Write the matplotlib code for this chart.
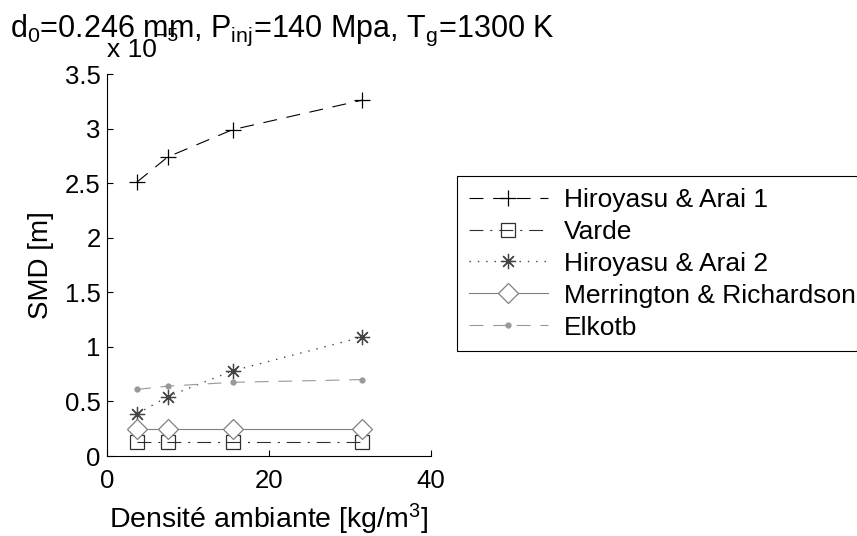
import numpy as np
import matplotlib
matplotlib.use('Agg')
import matplotlib.pyplot as plt

plt.rcParams['font.family'] = ['Liberation Sans', 'DejaVu Sans']
plt.rcParams['mathtext.fontset'] = 'custom'
plt.rcParams['mathtext.rm'] = 'Liberation Sans'
plt.rcParams['mathtext.it'] = 'Liberation Sans'
plt.rcParams['lines.scale_dashes'] = False

# densite ambiante [kg/m3]
rho = [3.7, 7.5, 15.5, 31.5]
# SMD [m] x 1e-5
smd_hiro1 = [2.51, 2.74, 2.99, 3.26]
smd_varde = [0.125, 0.125, 0.125, 0.125]
smd_hiro2 = [0.385, 0.545, 0.78, 1.09]
smd_merr = [0.25, 0.25, 0.25, 0.25]
smd_elkotb = [0.61, 0.64, 0.675, 0.70]
labels = ['Hiroyasu & Arai 1', 'Varde', 'Hiroyasu & Arai 2',
          'Merrington & Richardson', 'Elkotb']

fig = plt.figure(figsize=(8.57, 5.36), dpi=100)
ax = fig.add_axes([107/857, 1 - 456/536, (431 - 107)/857, (456 - 74)/536])

ax.plot(rho, smd_hiro1, color='black', linestyle=(0, (10, 7)), lw=0.8,
        marker='+', markersize=12, markeredgewidth=0.9, label=labels[0])
ax.plot(rho, smd_varde, color='#303030', linestyle=(0, (10, 5, 1.5, 5)), lw=0.8,
        marker='s', markersize=9.5, markerfacecolor='none', markeredgewidth=0.9,
        label=labels[1])
ax.plot(rho, smd_hiro2, color='#444444', linestyle=(0, (1, 5)), lw=1.0,
        marker=(8, 2, 0), markersize=11, markeredgewidth=0.9, label=labels[2])
ax.plot(rho, smd_merr, color='#808080', linestyle='-', lw=0.8,
        marker='D', markersize=10.5, markerfacecolor='white', markeredgewidth=0.9,
        label=labels[3])
ax.plot(rho, smd_elkotb, color='#999999', linestyle=(0, (10, 7)), lw=0.8,
        marker='.', markersize=7, label=labels[4])

ax.set_xlim(0, 40)
ax.set_ylim(0, 3.5)
ax.set_xticks([0, 20, 40])
ax.set_yticks(np.arange(0, 3.51, 0.5))
ax.set_yticklabels(['0', '0.5', '1', '1.5', '2', '2.5', '3', '3.5'])
ax.spines['top'].set_visible(False)
ax.spines['right'].set_visible(False)
ax.tick_params(direction='in', length=4, width=0.8, labelsize=18.5)
ax.tick_params(axis='x', pad=9)
ax.tick_params(axis='y', pad=4.5)
ax.patch.set_visible(False)

ax.set_xlabel('Densité ambiante [kg/m$^3$]', fontsize=20.5, labelpad=7)
ax.set_ylabel('SMD [m]', fontsize=20, labelpad=8)

fig.text(10/857, 1 - 37/536, 'd$_0$=0.246 mm, P$_{inj}$=140 Mpa, T$_g$=1300 K',
         fontsize=22, ha='left', va='baseline')
fig.text(107/857, 1 - 57/536, 'x 10', fontsize=19, ha='left', va='baseline')
fig.text(156/857, 1 - 41/536, '\u22125', fontsize=14, ha='left', va='baseline')

leg = fig.legend(loc='upper left', bbox_to_anchor=(457/857, 1 - 176/536),
                 fontsize=19, frameon=True, fancybox=False, framealpha=1,
                 edgecolor='black', handlelength=3.0, handletextpad=0.6,
                 labelspacing=0.3, borderpad=0.45, borderaxespad=0)
leg.get_frame().set_linewidth(0.8)

plt.savefig('out.png', dpi=100)
